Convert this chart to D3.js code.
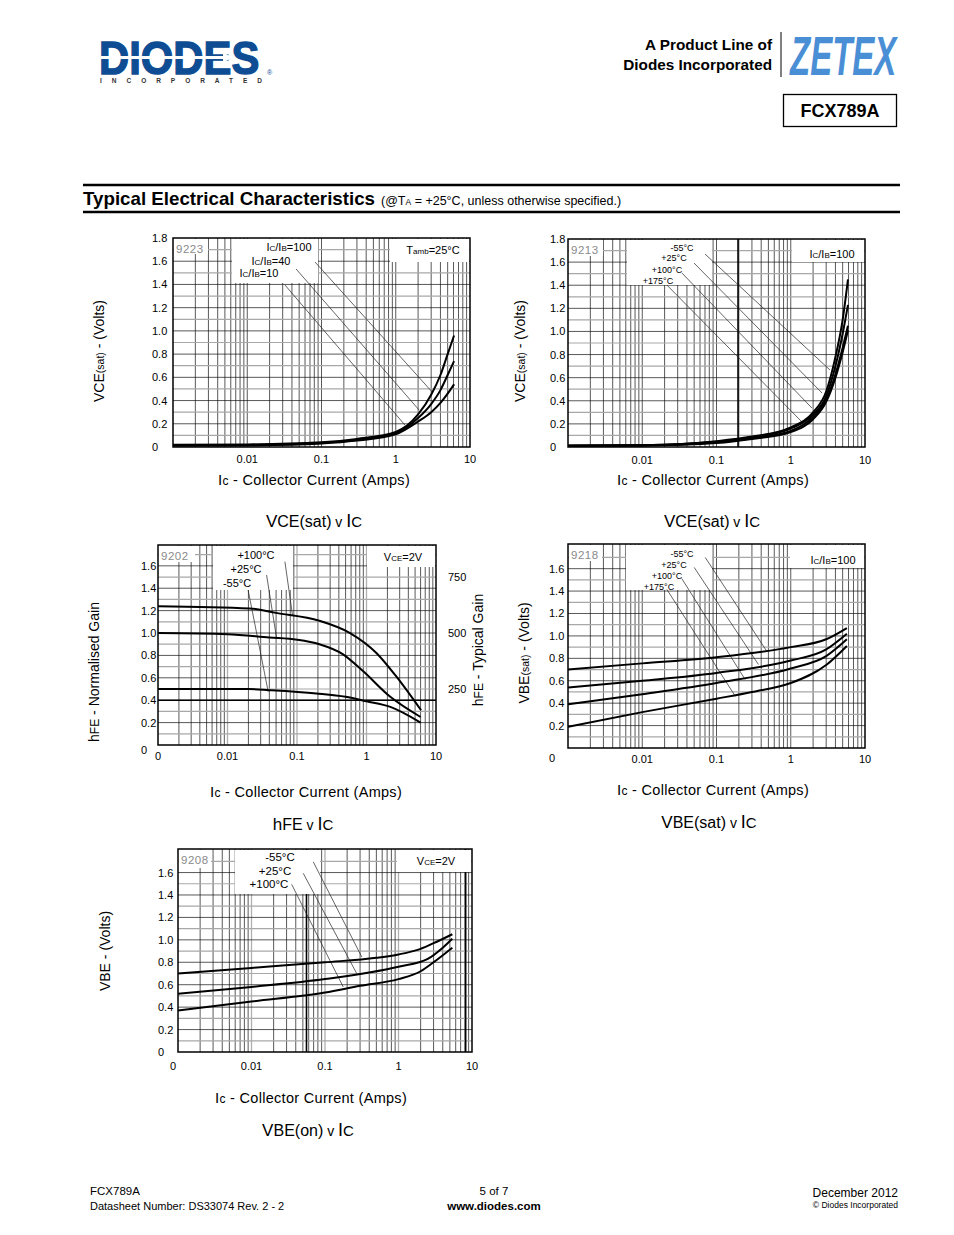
<!DOCTYPE html>
<html><head><meta charset="utf-8">
<script src="https://cdn.jsdelivr.net/npm/d3@7"></script>
<style>
body{margin:0;background:#fff}
svg{display:block}
text{font-family:"Liberation Sans",Arial,Helvetica,sans-serif}
</style>
</head><body>
<svg id="page" width="954" height="1235"></svg>
<script>
// ---------------- DATA ----------------
const X_DOMAIN = [0.001, 10];
const xTickValues = [0.001, 0.01, 0.1, 1, 10];

// Chart 1: VCE(sat) v IC, Tamb = 25°C  [IC (A), VCE(sat) (V)]
const c1_ratio100 = [[0.001,0.02],[0.01,0.022],[0.1,0.04],[0.3,0.07],[1,0.13],[2,0.28],[3,0.45],[4,0.62],[5,0.8],[6.1,0.96]];
const c1_ratio40  = [[0.001,0.015],[0.01,0.018],[0.1,0.035],[0.3,0.06],[1,0.12],[2,0.25],[3,0.37],[4,0.49],[5,0.62],[6.1,0.74]];
const c1_ratio10  = [[0.001,0.01],[0.01,0.013],[0.1,0.03],[0.3,0.055],[1,0.11],[2,0.22],[3,0.3],[4,0.38],[5,0.46],[6.1,0.54]];
const c1_leaders  = [[[0.0818,1.593],[3.18,0.465]],[[0.0455,1.533],[2.06,0.319]],[[0.0322,1.395],[1.33,0.189]]];

// Chart 2: VCE(sat) v IC, IC/IB = 100
const c2_m55  = [[0.001,0.012],[0.01,0.016],[0.1,0.05],[0.3,0.09],[1,0.17],[2,0.3],[3,0.48],[4,0.78],[5,1.1],[5.9,1.45]];
const c2_p25  = [[0.001,0.011],[0.01,0.015],[0.1,0.045],[0.3,0.085],[1,0.16],[2,0.28],[3,0.44],[4,0.7],[5,0.98],[5.9,1.23]];
const c2_p100 = [[0.001,0.01],[0.01,0.013],[0.1,0.04],[0.3,0.075],[1,0.14],[2,0.26],[3,0.41],[4,0.63],[5,0.86],[5.9,1.05]];
const c2_p175 = [[0.001,0.009],[0.01,0.012],[0.1,0.035],[0.3,0.07],[1,0.13],[2,0.24],[3,0.39],[4,0.6],[5,0.82],[5.9,1.01]];
const c2_leaders = [[[0.07,1.67],[3.38,0.666]],[[0.0498,1.592],[2.64,0.467]],[[0.0343,1.505],[1.93,0.337]],[[0.0215,1.401],[1.42,0.216]]];

// Chart 3: hFE v IC, VCE = 2V (normalised gain)
const c3_p100 = [[0.001,1.24],[0.021,1.22],[0.05,1.18],[0.21,1.11],[0.58,1.0],[1.4,0.82],[2.7,0.61],[6.1,0.31]];
const c3_p25  = [[0.001,1.0],[0.01,0.99],[0.04,0.96],[0.1,0.94],[0.21,0.9],[0.46,0.81],[0.89,0.66],[2.2,0.43],[6.0,0.25]];
const c3_m55  = [[0.001,0.5],[0.02,0.5],[0.04,0.49],[0.19,0.46],[0.5,0.43],[1,0.39],[2.2,0.34],[6.0,0.2]];
const c3_leaders = [[[0.067,1.637],[0.0865,1.152]],[[0.0365,1.518],[0.0508,0.955]],[[0.0198,1.384],[0.0385,0.476]]];
const c3_gainTicks = [250, 500, 750];

// Chart 4: VBE(sat) v IC, IC/IB = 100
const c4_m55  = [[0.001,0.7],[0.01,0.755],[0.1,0.81],[1,0.9],[3,0.97],[5.7,1.07]];
const c4_p25  = [[0.001,0.54],[0.01,0.6],[0.1,0.67],[1,0.78],[3,0.88],[5.7,1.02]];
const c4_p100 = [[0.001,0.39],[0.01,0.48],[0.1,0.58],[1,0.71],[3,0.82],[5.7,0.97]];
const c4_p175 = [[0.001,0.19],[0.01,0.32],[0.1,0.44],[0.3,0.5],[1,0.58],[3,0.74],[5.7,0.91]];
const c4_leaders = [[[0.0705,1.70],[0.476,0.863]],[[0.0501,1.611],[0.367,0.745]],[[0.0342,1.51],[0.243,0.611]],[[0.0215,1.414],[0.179,0.462]]];

// Chart 5: VBE(on) v IC, VCE = 2V
const c5_m55  = [[0.001,0.7],[0.01,0.75],[0.1,0.8],[0.5,0.84],[1,0.87],[2,0.92],[3,0.97],[5.4,1.05]];
const c5_p25  = [[0.001,0.52],[0.01,0.58],[0.1,0.65],[1,0.76],[2.5,0.83],[4,0.93],[5.4,1.01]];
const c5_p100 = [[0.001,0.37],[0.01,0.45],[0.1,0.53],[0.3,0.59],[1,0.65],[2,0.72],[3,0.8],[5.4,0.93]];
const c5_leaders = [[[0.0692,1.696],[0.316,0.848]],[[0.0506,1.593],[0.27,0.70]],[[0.0352,1.495],[0.177,0.58]]];

// ---------------- DRAWING ----------------
const svg = d3.select('#page');

function rich(parent, x, y, parts, o = {}) {
  const t = parent.append('text').attr('x', x).attr('y', y)
    .attr('text-anchor', o.anchor || 'start').attr('font-size', o.size || 12)
    .attr('fill', o.fill || '#000');
  if (o.weight) t.attr('font-weight', o.weight);
  if (o.rotate) t.attr('transform', `rotate(-90 ${x} ${y})`);
  if (o.ls) t.attr('letter-spacing', o.ls);
  parts.forEach(p => {
    const s = t.append('tspan').text(p[0]);
    if (p[1]) s.attr('font-size', p[1]);
  });
  return t;
}

function drawChart(c) {
  const g = svg.append('g');
  const x = d3.scaleLog().domain(X_DOMAIN).range([c.left, c.right]);
  const y = d3.scaleLinear().domain([0, c.yMax]).range([c.bottom, c.top]);

  const vg = [];
  [0.001, 0.01, 0.1, 1].forEach(d => d3.range(1, 10).forEach(m => vg.push(d * m)));
  const isDecade = v => Math.abs(Math.log10(v) - Math.round(Math.log10(v))) < 1e-6;
  g.append('g').selectAll('line').data(vg.filter(v => v > 0.0011)).join('line')
    .attr('x1', d => x(d)).attr('x2', d => x(d)).attr('y1', c.top).attr('y2', c.bottom)
    .attr('stroke', d => (c.greyDecades && isDecade(d)) ? '#b0b0b0' : '#111')
    .attr('stroke-width', d => (c.greyDecades && isDecade(d)) ? 1.3 : 0.7);
  const hg = d3.range(1, Math.round(c.yMax * 10)).map(i => i / 10).filter(v => v < c.yMax - 0.02);
  g.append('g').selectAll('line').data(hg).join('line')
    .attr('x1', c.left).attr('x2', c.right).attr('y1', d => y(d)).attr('y2', d => y(d))
    .attr('stroke', d => Math.round(d * 10) % 2 ? '#a8a8a8' : '#111')
    .attr('stroke-width', d => Math.round(d * 10) % 2 ? 1.2 : 0.7);

  (c.heavyV || []).forEach(v => g.append('line').attr('x1', x(v)).attr('x2', x(v))
    .attr('y1', c.top).attr('y2', c.bottom).attr('stroke', '#000').attr('stroke-width', 1.6));
  (c.heavyH || []).forEach(v => g.append('line').attr('x1', c.left).attr('x2', c.right)
    .attr('y1', y(v)).attr('y2', y(v)).attr('stroke', '#000').attr('stroke-width', 1.4));

  c.boxes.forEach(b => g.append('rect').attr('x', b[0]).attr('y', b[1])
    .attr('width', b[2] - b[0]).attr('height', b[3] - b[1]).attr('fill', '#fff'));

  g.append('g').selectAll('line').data(c.leaders).join('line')
    .attr('x1', d => x(d[0][0])).attr('y1', d => y(d[0][1]))
    .attr('x2', d => x(d[1][0])).attr('y2', d => y(d[1][1]))
    .attr('stroke', '#222').attr('stroke-width', 0.7);

  const line = d3.line().x(d => x(d[0])).y(d => y(d[1])).curve(d3.curveMonotoneX);
  g.append('g').selectAll('path').data(c.series).join('path')
    .attr('d', line).attr('fill', 'none').attr('stroke', '#000').attr('stroke-width', 2);

  g.append('rect').attr('x', c.left).attr('y', c.top).attr('width', c.right - c.left)
    .attr('height', c.bottom - c.top).attr('fill', 'none').attr('stroke', '#000').attr('stroke-width', 1.5);

  g.append('text').attr('x', c.left + 3).attr('y', c.top + 15).attr('font-size', 11.5)
    .attr('fill', '#8a8a8a').attr('letter-spacing', 0.5).text(c.idText);

  g.append('g').selectAll('text').data(c.yTicks).join('text')
    .attr('x', c.left - c.yLabelOff).attr('y', d => y(d) + 4 + (d === 0 ? c.zeroDy : 0))
    .attr('font-size', 11).text(d => d === 0 ? '0' : d.toFixed(1));
  g.append('g').selectAll('text').data(c.xTicks).join('text')
    .attr('x', d => x(d) + (d === 0.001 ? c.originDx : 0)).attr('y', c.xLabelY)
    .attr('text-anchor', 'middle').attr('font-size', 11)
    .text(d => d === 0.001 ? '0' : String(d));

  if (c.gainTicks) {
    const yg = d3.scaleLinear().domain([0, c.yMax * 500]).range([c.bottom, c.top]);
    g.append('g').selectAll('text').data(c.gainTicks).join('text')
      .attr('x', c.right + 12).attr('y', d => yg(d) + 4).attr('font-size', 11).text(d => d);
  }

  c.labels.forEach(l => rich(g, l.x, l.y, l.parts, { size: l.size, anchor: l.anchor || 'middle' }));
  c.titles.forEach(l => rich(g, l.x, l.y, l.parts, l.o));
  return g;
}

const degC = '°C';
const subIC = s => [['I', 11], ['C', 8], ['/I', 11], ['B', 8], [s, 11]];
const subV = s => [['V', 11], ['CE', 8], [s, 11]];
const xTitle = [['I', 15], ['c', 12], [' - Collector Current (Amps)', 14.5]];

const charts = [
  { left: 173, right: 470, top: 238, bottom: 447, yMax: 1.8,
    series: [c1_ratio100, c1_ratio40, c1_ratio10], leaders: c1_leaders,
    yTicks: d3.range(0, 10).map(i => i * 0.2), yLabelOff: 21, zeroDy: 0,
    xTicks: xTickValues.slice(1), xLabelY: 463, originDx: 0,
    idText: '9223',
    boxes: [[174, 239, 208, 254], [232, 239, 318, 283], [390, 239, 469, 262]],
    labels: [
      { x: 289, y: 251, size: 11, parts: subIC('=100') },
      { x: 271, y: 265, size: 11, parts: subIC('=40') },
      { x: 259, y: 277, size: 11, parts: subIC('=10') },
      { x: 433, y: 254, size: 11, parts: [['T', 11], ['amb', 8], ['=25' + degC, 11]] }],
    titles: [
      { x: 104, y: 351, parts: [['V', 14], ['CE', 14], ['(sat)', 10.5], [' - (Volts)', 14]], o: { anchor: 'middle', rotate: true } },
      { x: 314, y: 485, parts: xTitle, o: { anchor: 'middle', ls: 0.3 } },
      { x: 314, y: 527, parts: [['V', 17], ['CE(sat)', 16], [' v ', 14], ['I', 18], ['C', 15]], o: { anchor: 'middle' } }] },

  { left: 568, right: 865, top: 239, bottom: 447, yMax: 1.8,
    series: [c2_m55, c2_p25, c2_p100, c2_p175], leaders: c2_leaders,
    yTicks: d3.range(0, 10).map(i => i * 0.2), yLabelOff: 18, zeroDy: 0,
    xTicks: xTickValues.slice(1), xLabelY: 464, originDx: 0,
    idText: '9213', heavyV: [0.195],
    boxes: [[569, 240, 603, 256], [627, 240, 712, 285], [792, 240, 864, 262]],
    labels: [
      { x: 682, y: 251, size: 9, parts: [['-55' + degC]] },
      { x: 674, y: 261, size: 9, parts: [['+25' + degC]] },
      { x: 667, y: 273, size: 9, parts: [['+100' + degC]] },
      { x: 658, y: 284, size: 9, parts: [['+175' + degC]] },
      { x: 832, y: 258, size: 11, parts: subIC('=100') }],
    titles: [
      { x: 525, y: 351, parts: [['V', 14], ['CE', 14], ['(sat)', 10.5], [' - (Volts)', 14]], o: { anchor: 'middle', rotate: true } },
      { x: 713, y: 485, parts: xTitle, o: { anchor: 'middle', ls: 0.3 } },
      { x: 712, y: 527, parts: [['V', 17], ['CE(sat)', 16], [' v ', 14], ['I', 18], ['C', 15]], o: { anchor: 'middle' } }] },

  { left: 158, right: 436, top: 545, bottom: 745, yMax: 1.786,
    series: [c3_p100, c3_p25, c3_m55], leaders: c3_leaders, gainTicks: c3_gainTicks,
    yTicks: d3.range(0, 9).map(i => i * 0.2), yLabelOff: 17, zeroDy: 5,
    xTicks: xTickValues, xLabelY: 760, originDx: 0,
    idText: '9202', heavyH: [0.4], greyDecades: true,
    boxes: [[159, 546, 195, 562], [213, 546, 293, 590], [367, 546, 435, 567]],
    labels: [
      { x: 256, y: 559, size: 11, parts: [['+100' + degC]] },
      { x: 246, y: 573, size: 11, parts: [['+25' + degC]] },
      { x: 237, y: 587, size: 11, parts: [['-55' + degC]] },
      { x: 403, y: 561, size: 11, parts: subV('=2V') }],
    titles: [
      { x: 99, y: 672, parts: [['h', 14], ['FE', 12], [' - Normalised Gain', 14]], o: { anchor: 'middle', rotate: true } },
      { x: 483, y: 650, parts: [['h', 14], ['FE', 12], [' - Typical Gain', 14]], o: { anchor: 'middle', rotate: true } },
      { x: 306, y: 797, parts: xTitle, o: { anchor: 'middle', ls: 0.3 } },
      { x: 303, y: 830, parts: [['h', 17], ['FE', 16], [' v ', 14], ['I', 18], ['C', 15]], o: { anchor: 'middle' } }] },

  { left: 568, right: 865, top: 544, bottom: 748, yMax: 1.82,
    series: [c4_m55, c4_p25, c4_p100, c4_p175], leaders: c4_leaders,
    yTicks: d3.range(0, 9).map(i => i * 0.2), yLabelOff: 19, zeroDy: 10,
    xTicks: xTickValues.slice(1), xLabelY: 763, originDx: 0,
    idText: '9218',
    boxes: [[569, 545, 602, 561], [626, 545, 712, 590], [790, 545, 864, 568]],
    labels: [
      { x: 682, y: 557, size: 9, parts: [['-55' + degC]] },
      { x: 674, y: 568, size: 9, parts: [['+25' + degC]] },
      { x: 667, y: 579, size: 9, parts: [['+100' + degC]] },
      { x: 659, y: 590, size: 9, parts: [['+175' + degC]] },
      { x: 833, y: 564, size: 11, parts: subIC('=100') }],
    titles: [
      { x: 529, y: 653, parts: [['V', 14], ['BE', 14], ['(sat)', 10.5], [' - (Volts)', 14]], o: { anchor: 'middle', rotate: true } },
      { x: 713, y: 795, parts: xTitle, o: { anchor: 'middle', ls: 0.3 } },
      { x: 709, y: 828, parts: [['V', 17], ['BE(sat)', 16], [' v ', 14], ['I', 18], ['C', 15]], o: { anchor: 'middle' } }] },

  { left: 178, right: 472, top: 849, bottom: 1052, yMax: 1.81,
    series: [c5_m55, c5_p25, c5_p100], leaders: c5_leaders,
    yTicks: d3.range(0, 9).map(i => i * 0.2), yLabelOff: 20, zeroDy: 0,
    xTicks: xTickValues, xLabelY: 1070, originDx: -5,
    idText: '9208', heavyV: [0.056, 8.2], greyDecades: true,
    boxes: [[179, 850, 211, 868], [235, 850, 320, 894], [397, 850, 471, 872]],
    labels: [
      { x: 280, y: 861, size: 11.5, parts: [['-55' + degC]] },
      { x: 275, y: 875, size: 11.5, parts: [['+25' + degC]] },
      { x: 269, y: 888, size: 11.5, parts: [['+100' + degC]] },
      { x: 436, y: 865, size: 11, parts: subV('=2V') }],
    titles: [
      { x: 110, y: 951, parts: [['V', 14], ['BE', 14], [' - (Volts)', 14]], o: { anchor: 'middle', rotate: true } },
      { x: 311, y: 1103, parts: xTitle, o: { anchor: 'middle', ls: 0.3 } },
      { x: 308, y: 1136, parts: [['V', 17], ['BE(on)', 16], [' v ', 14], ['I', 18], ['C', 15]], o: { anchor: 'middle' } }] }
];

charts.forEach(drawChart);

// ---------------- HEADER ----------------
const hdr = svg.append('g');
hdr.append('text').attr('transform', 'translate(99,74) scale(0.89,1)').attr('font-size', 47)
  .attr('font-weight', 'bold').attr('fill', '#0e4d93')
  .attr('stroke', '#0e4d93').attr('stroke-width', 1.4).text('DIODES');
hdr.append('rect').attr('x', 101).attr('y', 56).attr('width', 122).attr('height', 3).attr('fill', '#fff');
hdr.append('path').attr('d', 'M223,52 L232,57.5 L223,63 Z').attr('fill', '#fff');
hdr.append('text').attr('x', 100).attr('y', 83).attr('font-size', 6.5).attr('font-weight', 'bold')
  .attr('fill', '#333').attr('textLength', 162).attr('lengthAdjust', 'spacing').text('INCORPORATED');
hdr.append('text').attr('x', 267).attr('y', 75).attr('font-size', 7).attr('fill', '#0e4d93').text('®');

hdr.append('text').attr('x', 772).attr('y', 50).attr('text-anchor', 'end').attr('font-size', 15.3)
  .attr('font-weight', 'bold').text('A Product Line of');
hdr.append('text').attr('x', 772).attr('y', 70).attr('text-anchor', 'end').attr('font-size', 15.3)
  .attr('font-weight', 'bold').text('Diodes Incorporated');
hdr.append('line').attr('x1', 781).attr('x2', 781).attr('y1', 32).attr('y2', 77).attr('stroke', '#000').attr('stroke-width', 1);
hdr.append('text').attr('transform', 'translate(790,75) scale(0.6,1)').attr('font-size', 55)
  .attr('font-weight', 'bold').attr('font-style', 'italic').attr('fill', '#4a8fd6').text('ZETEX');
hdr.append('rect').attr('x', 783.5).attr('y', 94.5).attr('width', 113).attr('height', 32)
  .attr('fill', 'none').attr('stroke', '#000').attr('stroke-width', 1.3);
hdr.append('text').attr('x', 840).attr('y', 117).attr('text-anchor', 'middle').attr('font-size', 18)
  .attr('font-weight', 'bold').text('FCX789A');

hdr.append('line').attr('x1', 83).attr('x2', 900).attr('y1', 185).attr('y2', 185).attr('stroke', '#000').attr('stroke-width', 2.5);
hdr.append('line').attr('x1', 83).attr('x2', 900).attr('y1', 212).attr('y2', 212).attr('stroke', '#000').attr('stroke-width', 2.5);
hdr.append('text').attr('x', 83).attr('y', 205).attr('font-size', 18.5).attr('font-weight', 'bold')
  .attr('textLength', 292).attr('lengthAdjust', 'spacingAndGlyphs').text('Typical Electrical Characteristics');
rich(hdr, 381, 205, [['(@T', 12.5], ['A', 8.5], [' = +25°C, unless otherwise specified.)', 12.5]], { size: 12.5 });

// ---------------- FOOTER ----------------
const ft = svg.append('g');
ft.append('text').attr('x', 90).attr('y', 1195).attr('font-size', 11.5).text('FCX789A');
ft.append('text').attr('x', 90).attr('y', 1210).attr('font-size', 11).text('Datasheet Number: DS33074 Rev. 2 - 2');
ft.append('text').attr('x', 494).attr('y', 1195).attr('text-anchor', 'middle').attr('font-size', 11.5).text('5 of 7');
ft.append('text').attr('x', 494).attr('y', 1210).attr('text-anchor', 'middle').attr('font-size', 11.5)
  .attr('font-weight', 'bold').text('www.diodes.com');
ft.append('text').attr('x', 898).attr('y', 1197).attr('text-anchor', 'end').attr('font-size', 12).text('December 2012');
ft.append('text').attr('x', 898).attr('y', 1208).attr('text-anchor', 'end').attr('font-size', 8.5).text('© Diodes Incorporated');
</script>
</body></html>
